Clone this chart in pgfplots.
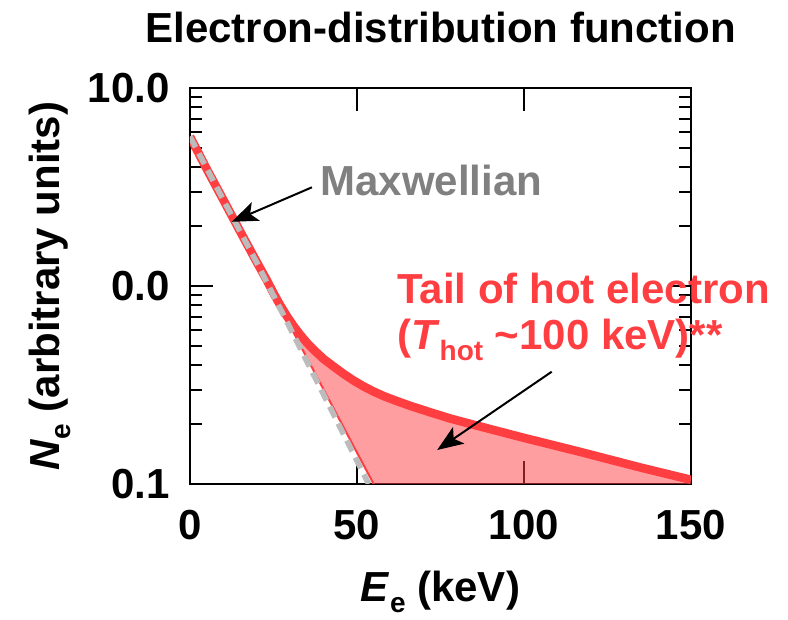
\documentclass[border=0pt]{standalone}
\usepackage{fontspec}
\setmainfont{Liberation Sans}[UprightFont=* Bold, ItalicFont=* Bold Italic, BoldFont=* Bold, BoldItalicFont=* Bold Italic]
\usepackage{pgfplots}
\usepackage{pgfplotstable}
\pgfplotsset{compat=1.18}
\usetikzlibrary{arrows.meta,calc}
\definecolor{hotred}{RGB}{255,62,66}
\definecolor{mxgray}{RGB}{188,188,188}
\definecolor{txtgray}{RGB}{128,128,128}
\newcommand\fs{\fontsize{21}{25}\selectfont}
\newcommand\sub[1]{\raisebox{-5.5pt}{\fontsize{14}{14}\selectfont #1}}

% total distribution (Maxwellian + hot tail)
\pgfplotstableread{
E N
0 5.68
5 3.90
10 2.72
15 1.89
20 1.32
23 1.07
25 0.92
27 0.80
29 0.705
31 0.628
33 0.567
35 0.517
37 0.477
40 0.428
43 0.392
46 0.360
49 0.333
52 0.311
55 0.293
58 0.278
62 0.262
66 0.248
72 0.230
78 0.214
85 0.199
100 0.171
117 0.145
135 0.121
150 0.105
}\total

% Maxwellian component (thin red boundary)
\pgfplotstableread{
E N
0 5.68
10 2.72
20 1.31
30 0.627
40 0.300
50 0.144
55 0.100
}\maxw

% Maxwellian fit (grey dashed)
\pgfplotstableread{
E N
0 5.68
10 2.72
20 1.31
30 0.612
40 0.283
50 0.131
53.5 0.100
}\maxfit

\begin{document}
\fs
\begin{tikzpicture}
\begin{axis}[
  scale only axis,
  width=250.5pt, height=198pt,
  xmin=0, xmax=150,
  ymode=log, ymin=0.1, ymax=10,
  xtick={0,50,100,150},
  xticklabels={0,50,100,150},
  ytick={0.1,1,10},
  yticklabels={0.1,0.0,10.0},
  tick align=inside,
  major tick length=11.5pt,
  minor tick length=6pt,
  every tick/.style={black, line width=1pt},
  axis line style={line width=1.4pt},
  tick label style={font=\fs},
  xticklabel style={anchor=base, yshift=-28pt, inner sep=0pt},
  yticklabel style={anchor=east, xshift=-10pt, inner sep=0pt},
]
% hot-electron tail area between total and Maxwellian
\addplot[draw=none, fill=hotred, fill opacity=0.5] coordinates {
 (25,0.92) (27,0.80) (29,0.705) (31,0.628) (33,0.567) (35,0.517) (37,0.477)
 (40,0.428) (43,0.392) (46,0.360) (49,0.333) (52,0.311) (55,0.293) (58,0.278)
 (62,0.262) (66,0.248) (72,0.230) (78,0.214) (85,0.199) (100,0.171) (117,0.145)
 (135,0.121) (150,0.105)
 (150,0.1) (55,0.1) (50,0.144) (40,0.300) (30,0.627) (25,0.905)
} -- cycle;
\addplot[hotred, line width=4.3pt, line join=round] table[x=E, y=N] {\total};
\addplot[hotred, line width=1pt] table[x=E, y=N] {\maxw};
\addplot[mxgray, line width=2.8pt, dash pattern=on 6pt off 3.5pt] table[x=E, y=N] {\maxfit};

\coordinate (sw) at (rel axis cs:0,0);
\coordinate (ne) at (rel axis cs:1,1);
\coordinate (mx) at (axis cs:38.9,2.86);
\coordinate (mxa) at (axis cs:36.5,3.15);
\coordinate (mxb) at (axis cs:12.5,2.11);
\coordinate (t1) at (axis cs:61.9,0.818);
\coordinate (t2) at (axis cs:61.9,0.479);
\coordinate (ha) at (axis cs:108.3,0.369);
\coordinate (hb) at (axis cs:74.0,0.1485);
\end{axis}

% bounding box with reference margins
\path ([shift={(-95pt,-68pt)}]sw) rectangle ([shift={(48.5pt,44pt)}]ne);

% title and axis labels
\node[anchor=base, inner sep=0pt, font=\fs] at ([yshift=22.65pt]$(sw|-ne)!0.5!(ne)$) {Electron-distribution function};
\node[anchor=base, inner sep=0pt, font=\fs] at ([yshift=-59pt]$(sw)!0.5!(sw-|ne)$) {\textit{E}\sub{e} (keV)};
\node[anchor=base, rotate=90, inner sep=0pt, font=\fs] at ([xshift=-65pt]$(sw)!0.5!(sw|-ne)$) {\textit{N}\sub{e} (arbitrary units)};

% annotations
\node[anchor=base west, inner sep=0pt, font=\fs, text=txtgray] at (mx) {Maxwellian};
\draw[black, line width=1pt, -{Stealth[length=13pt, width=10pt, inset=3pt]}] (mxa) -- (mxb);
\node[anchor=base west, inner sep=0pt, font=\fs, text=hotred] at (t1) {Tail of hot electron};
\node[anchor=base west, inner sep=0pt, font=\fs, text=hotred] at (t2) {(\textit{T}\sub{hot} \textasciitilde100 keV)**};
\draw[black, line width=1pt, -{Stealth[length=13pt, width=10pt, inset=3pt]}] (ha) -- (hb);
\end{tikzpicture}
\end{document}
